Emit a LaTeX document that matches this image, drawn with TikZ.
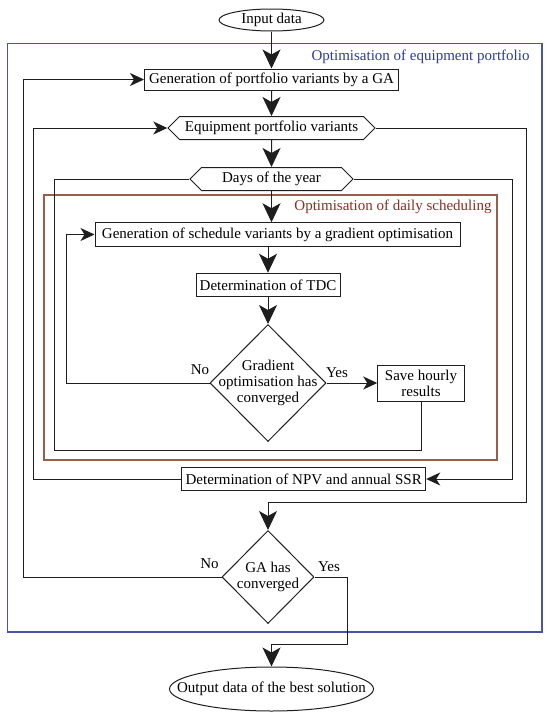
\documentclass[tikz,border=0pt]{standalone}
\usepackage{fontspec}
\setmainfont{Liberation Serif}
\usetikzlibrary{shapes.geometric,shapes.symbols,arrows.meta}
\definecolor{frameblue}{RGB}{70,85,170}
\definecolor{textblue}{RGB}{45,60,150}
\definecolor{framebrown}{RGB}{150,95,75}
\definecolor{textbrown}{RGB}{140,45,35}
\definecolor{linegray}{RGB}{30,30,30}
\begin{document}
\begin{tikzpicture}[x=1pt,y=-1pt,
  font=\fontsize{15}{16}\selectfont,
  line width=1pt,
  conn/.style={draw=linegray},
  arrV/.style={draw=linegray, -{Stealth[length=19pt,width=18pt,inset=5pt]}},
  arrH/.style={draw=linegray, -{Stealth[length=14pt,width=13pt,inset=4pt]}},
  box/.style={draw=linegray, inner sep=0pt},
  hexa/.style={draw=linegray, signal, signal to=west and east, signal pointer angle=90, inner sep=0pt},
  term/.style={draw=linegray, ellipse, inner sep=0pt},
  dec/.style={draw=linegray, diamond, inner sep=0pt},
  lbl/.style={inner sep=1pt}]
\useasboundingbox (0,0) rectangle (550,718);
% frames
\draw[frameblue, line width=1.5pt] (7.5,43.5) rectangle (542,632);
\node[anchor=east, text=textblue, inner sep=0pt] (lblA) at (530,57) {Optimisation of equipment portfolio};
\draw[framebrown, line width=1.5pt] (44,195) rectangle (497,460);
\node[anchor=east, text=textbrown, inner sep=0pt] (lblB) at (492,207) {Optimisation of daily scheduling};
% nodes
\node[term, minimum width=105pt, minimum height=22pt] (in) at (271.5,20) {\makebox[0pt]{Input data}};
\node[box, minimum width=254pt, minimum height=21pt] (gen) at (271.5,79.5) {Generation of portfolio variants by a GA};
\node[hexa, minimum width=207pt, minimum height=23pt] (eq) at (271.5,128) {Equipment portfolio variants};
\node[hexa, minimum width=163pt, minimum height=23pt] (days) at (271.5,179) {Days of the year};
\node[box, minimum width=365pt, minimum height=23.5pt] (gs) at (277.5,234.5) {Generation of schedule variants by a gradient optimisation};
\node[box, minimum width=144pt, minimum height=23.5pt] (tdc) at (268,285) {Determination of TDC};
\node[dec, minimum width=116pt, minimum height=117pt] (d1) at (268,383) {};
\node[align=center, inner sep=0pt] (d1t) at (d1.center) {Gradient\\optimisation has\\converged};
\node[box, minimum width=86.5pt, minimum height=36pt, align=center] (save) at (421,383) {Save hourly\\results};
\node[box, minimum width=244pt, minimum height=23.5pt] (npv) at (303.7,479) {Determination of NPV and annual SSR};
\node[dec, minimum width=92pt, minimum height=93pt] (d2) at (268,577) {};
\node[align=center, inner sep=0pt] (d2t) at (d2.center) {GA has\\converged};
\node[term, minimum width=204pt, minimum height=44pt] (out) at (271.5,689) {\makebox[0pt]{Output data of the best solution}};
% labels
\node[lbl] (no1) at (200,370) {No};
\node[lbl] (yes1) at (337,373) {Yes};
\node[lbl] (no2) at (209.5,564) {No};
\node[lbl] (yes2) at (329,567) {Yes};
% connectors
\draw[arrV] (in) -- (gen);
\draw[arrV] (gen) -- (eq);
\draw[arrV] (eq) -- (days);
\draw[arrV] (days.south) -- (days.south |- gs.north);
\draw[arrV] (gs.south -| tdc.north) -- (tdc.north);
\draw[arrV] (tdc) -- (d1);
\draw[arrH] (d1.east) -- (save.west);
\draw[arrH] (d1.west) -| (66.7,300) |- (gs.west);
\draw[conn] (save.south) |- (54,450) |- (days.west);
\draw[arrH] (days.east) -| (512,479) -- (npv.east);
\draw[arrH] (npv.west) -| (33,128) -- (eq.west);
\draw[arrV] (eq.east) -| (526,502) -| (d2.north);
\draw[arrH] (d2.west) -| (23.5,79.5) -- (gen.west);
\draw[arrV] (d2.east) -| (347.4,644) -| (out.north);
\end{tikzpicture}
\end{document}
